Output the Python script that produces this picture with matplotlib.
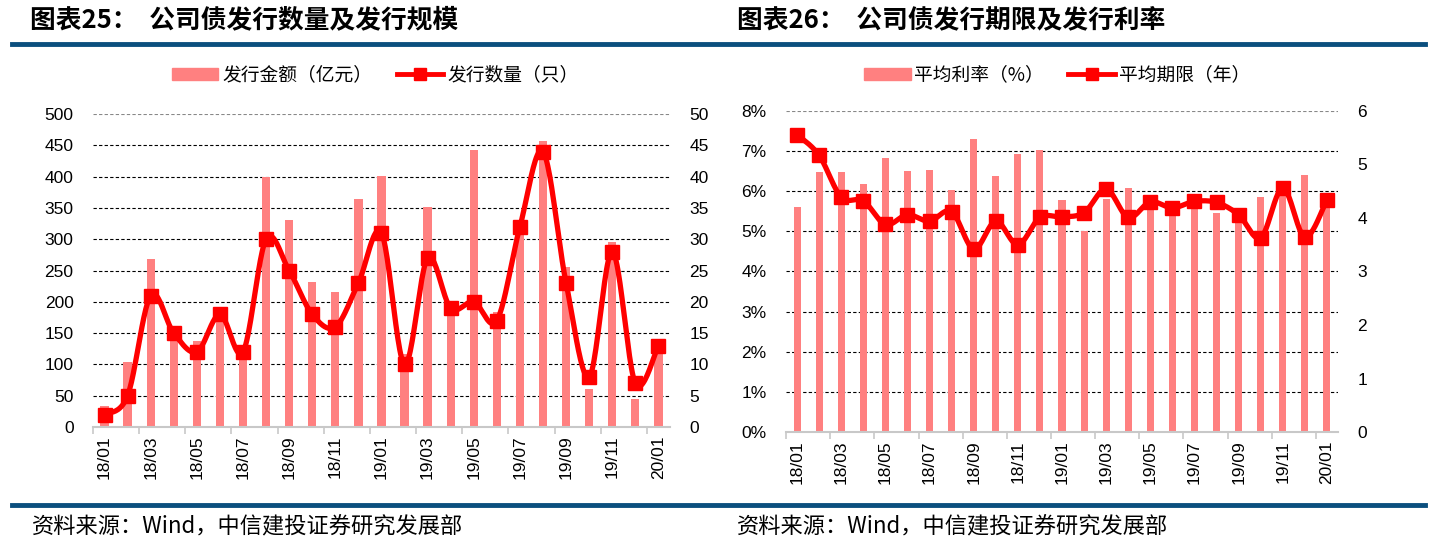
import numpy as np
import matplotlib
matplotlib.use("Agg")
import matplotlib.pyplot as plt
from matplotlib.lines import Line2D
from matplotlib.ticker import FuncFormatter

plt.rcParams["font.family"] = ["Liberation Sans", "Noto Sans CJK SC"]

# 月份
months = ["18/01", "18/02", "18/03", "18/04", "18/05", "18/06", "18/07", "18/08", "18/09",
          "18/10", "18/11", "18/12", "19/01", "19/02", "19/03", "19/04", "19/05", "19/06",
          "19/07", "19/08", "19/09", "19/10", "19/11", "19/12", "20/01"]

# 图表25: 发行金额（亿元）, 发行数量（只）
issue_amount = [34, 104, 269, 155, 138, 175, 115, 400, 330, 231, 216, 365, 401,
                117, 352, 190, 443, 183, 315, 457, 256, 60, 295, 44, 125]
issue_count = [2, 5, 21, 15, 12, 18, 12, 30, 25, 18, 16, 23, 31,
               10, 27, 19, 20, 17, 32, 44, 23, 8, 28, 7, 13]

# 图表26: 平均利率（%）, 平均期限（年）
avg_rate = [5.61, 6.47, 6.47, 6.19, 6.84, 6.50, 6.52, 6.02, 7.29, 6.37, 6.94, 7.04, 5.77,
            5.00, 5.80, 6.08, 5.58, 5.55, 5.69, 5.47, 5.36, 5.86, 5.88, 6.40, 5.85]
avg_term = [5.56, 5.17, 4.39, 4.32, 3.88, 4.06, 3.94, 4.12, 3.42, 3.94, 3.50, 4.01, 4.02,
            4.10, 4.54, 4.01, 4.30, 4.19, 4.31, 4.29, 4.06, 3.63, 4.56, 3.64, 4.34]

BAR_COLOR = "#ff8080"
LINE_COLOR = "#ff0000"
BLUE = "#0b4f7e"
CJK = ["Noto Sans CJK SC"]


def smooth(x, y, n=24):
    # Excel 风格平滑线 (Catmull-Rom)
    x = np.asarray(x, float)
    y = np.asarray(y, float)
    px = np.concatenate([[x[0]], x, [x[-1]]])
    py = np.concatenate([[y[0]], y, [y[-1]]])
    xs, ys = [], []
    t = np.linspace(0, 1, n, endpoint=False)
    for i in range(1, len(px) - 2):
        p0, p1, p2, p3 = (np.array([px[j], py[j]]) for j in range(i - 1, i + 3))
        c1 = p1 + (p2 - p0) / 6
        c2 = p2 - (p3 - p1) / 6
        pts = ((1 - t) ** 3)[:, None] * p1 + (3 * (1 - t) ** 2 * t)[:, None] * c1 \
            + (3 * (1 - t) * t ** 2)[:, None] * c2 + (t ** 3)[:, None] * p2
        xs.extend(pts[:, 0])
        ys.extend(pts[:, 1])
    xs.append(x[-1])
    ys.append(y[-1])
    return np.array(xs), np.array(ys)


def style_axes(ax, ax2, ylim, yticks, y2lim, y2ticks):
    x = np.arange(len(months))
    ax.set_xlim(-0.5, len(months) - 0.5)
    ax.set_ylim(*ylim)
    ax.set_yticks(yticks)
    ax2.set_ylim(*y2lim)
    ax2.set_yticks(y2ticks)
    ax.set_xticks(x[::2])
    ax.set_xticklabels(months[::2], rotation=90, fontsize=12.5)
    ax.set_xticks(np.arange(-0.5, len(months) - 1, 2), minor=True)
    ax.tick_params(axis="x", which="major", length=0, pad=6)
    ax.tick_params(axis="x", which="minor", length=5, color="#c8c8c8", width=1.2)
    ax.tick_params(axis="y", length=0, labelsize=12.5, pad=14)
    ax2.tick_params(axis="y", length=0, labelsize=12.5, pad=14)
    for a in (ax, ax2):
        for s in ("top", "left", "right", "bottom"):
            a.spines[s].set_visible(False)
    ax.spines["bottom"].set_visible(True)
    ax.spines["bottom"].set_color("#c8c8c8")
    ax.spines["bottom"].set_linewidth(1.5)
    for v in yticks[1:]:
        col = "#888888" if v == yticks[-1] else "black"
        ax.axhline(v, color=col, lw=0.8, ls=(0, (3, 2)), zorder=0)


def add_legend(fig, labels, cx):
    handles = [plt.Rectangle((0, 0), 1, 1, color=BAR_COLOR),
               Line2D([], [], color=LINE_COLOR, lw=3.5, marker="s", ms=8)]
    fig.legend(handles, labels, loc="center", ncol=2,
               bbox_to_anchor=(cx / 1437, 1 - 75 / 553), frameon=False, handlelength=2.5,
               handleheight=0.6, columnspacing=1.3, handletextpad=0.2,
               prop={"family": CJK, "size": 13.5})


fig = plt.figure(figsize=(14.37, 5.53), dpi=100)
x = np.arange(len(months))

# ---- 图表25
ax = fig.add_axes([0.0647, 0.2278, 0.4015, 0.566])
ax2 = ax.twinx()
ax.bar(x, issue_amount, width=0.36, color=BAR_COLOR, zorder=2)
sx, sy = smooth(x, issue_count)
ax2.plot(sx, sy, color=LINE_COLOR, lw=3.8, zorder=3)
ax2.plot(x, issue_count, ls="none", marker="s", ms=10, color=LINE_COLOR, zorder=4)
style_axes(ax, ax2, (0, 500), list(range(0, 501, 50)), (0, 50), list(range(0, 51, 5)))
add_legend(fig, ["发行金额（亿元）", "发行数量（只）"], 375)

# ---- 图表26
bx = fig.add_axes([0.547, 0.2188, 0.3841, 0.5805])
bx2 = bx.twinx()
bx.bar(x, avg_rate, width=0.32, color=BAR_COLOR, zorder=2)
sx, sy = smooth(x, avg_term)
bx2.plot(sx, sy, color=LINE_COLOR, lw=3.8, zorder=3)
bx2.plot(x, avg_term, ls="none", marker="s", ms=10, color=LINE_COLOR, zorder=4)
style_axes(bx, bx2, (0, 8), list(range(0, 9)), (0, 6), list(range(0, 7)))
bx.yaxis.set_major_formatter(FuncFormatter(lambda v, p: f"{v:.0f}%"))
add_legend(fig, ["平均利率（%）", "平均期限（年）"], 1057)

# ---- 标题, 分隔线, 来源
fig.text(30 / 1437, 1 - 20 / 553, "图表25：  公司债发行数量及发行规模", fontsize=18.5,
         fontweight="bold", family=CJK, va="center", ha="left")
fig.text(737 / 1437, 1 - 20 / 553, "图表26：  公司债发行期限及发行利率", fontsize=18.5,
         fontweight="bold", family=CJK, va="center", ha="left")
for yy in (44, 505):
    fig.add_artist(Line2D([12 / 1437, 1425 / 1437], [1 - yy / 553] * 2, color=BLUE, lw=3.5,
                          transform=fig.transFigure))
for sx0 in (32, 737):
    fig.text(sx0 / 1437, 1 - 527 / 553, "资料来源：Wind，中信建投证券研究发展部", fontsize=16,
             family=CJK, va="center", ha="left")

fig.savefig("out.png", dpi=100)
